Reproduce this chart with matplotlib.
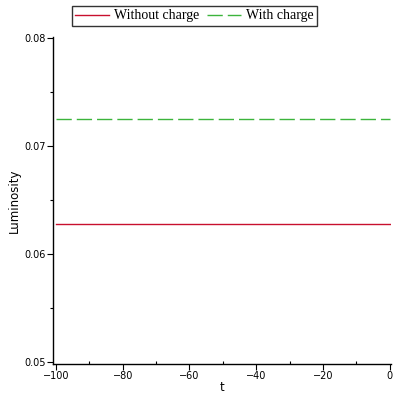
import matplotlib
matplotlib.use('Agg')
import matplotlib.pyplot as plt
import numpy as np

plt.rcParams['lines.scale_dashes'] = False

# luminosity vs t, with and without charge (constant)
t = [-100, 0]
lum_no_charge = [0.06276, 0.06276]
lum_charge = [0.07248, 0.07248]
x_ticks = [-100, -80, -60, -40, -20, 0]
y_ticks = [0.05, 0.06, 0.07, 0.08]

fig = plt.figure(figsize=(4, 4), dpi=100)
ax = fig.add_axes([0.1325, 0.09, 0.845, 0.8175])

ax.plot(t, lum_no_charge, color='#c8102e', linewidth=1.0, label='Without charge')
ax.plot(t, lum_charge, color='#3cb43c', linewidth=1.0, dashes=(11, 3.6), label='With charge')

ax.set_xlim(-100.9, 0.4)
ax.set_ylim(0.04982, 0.0801)
ax.set_xticks(x_ticks)
ax.set_xticklabels(['\u2212100', '\u221280', '\u221260', '\u221240', '\u221220', '0'])
ax.set_yticks(y_ticks)
ax.set_yticklabels(['0.05', '0.06', '0.07', '0.08'])
ax.set_xticks(np.arange(-90, 0, 20), minor=True)
ax.set_yticks([0.055, 0.065, 0.075], minor=True)

for s in ['top', 'right']:
    ax.spines[s].set_visible(False)
for s in ['left', 'bottom']:
    ax.spines[s].set_linewidth(1.0)

ax.tick_params(which='major', length=4, width=0.8, labelsize=7, pad=1)
ax.tick_params(which='minor', length=2, width=0.8)
ax.tick_params(axis='x', which='minor', direction='in')

ax.set_xlabel('t', fontsize=8.5, labelpad=0)
ax.set_ylabel('Luminosity', fontsize=8.5, labelpad=3)

leg = fig.legend(loc='upper center', bbox_to_anchor=(0.486, 0.985), ncol=2,
                 prop={'family': 'Liberation Serif', 'size': 10},
                 frameon=True, fancybox=False, edgecolor='black',
                 handlelength=2.45, handletextpad=0.36, columnspacing=0.5,
                 borderpad=0.25, borderaxespad=0)
leg.get_frame().set_linewidth(1.0)

fig.savefig('out.png', dpi=100)
